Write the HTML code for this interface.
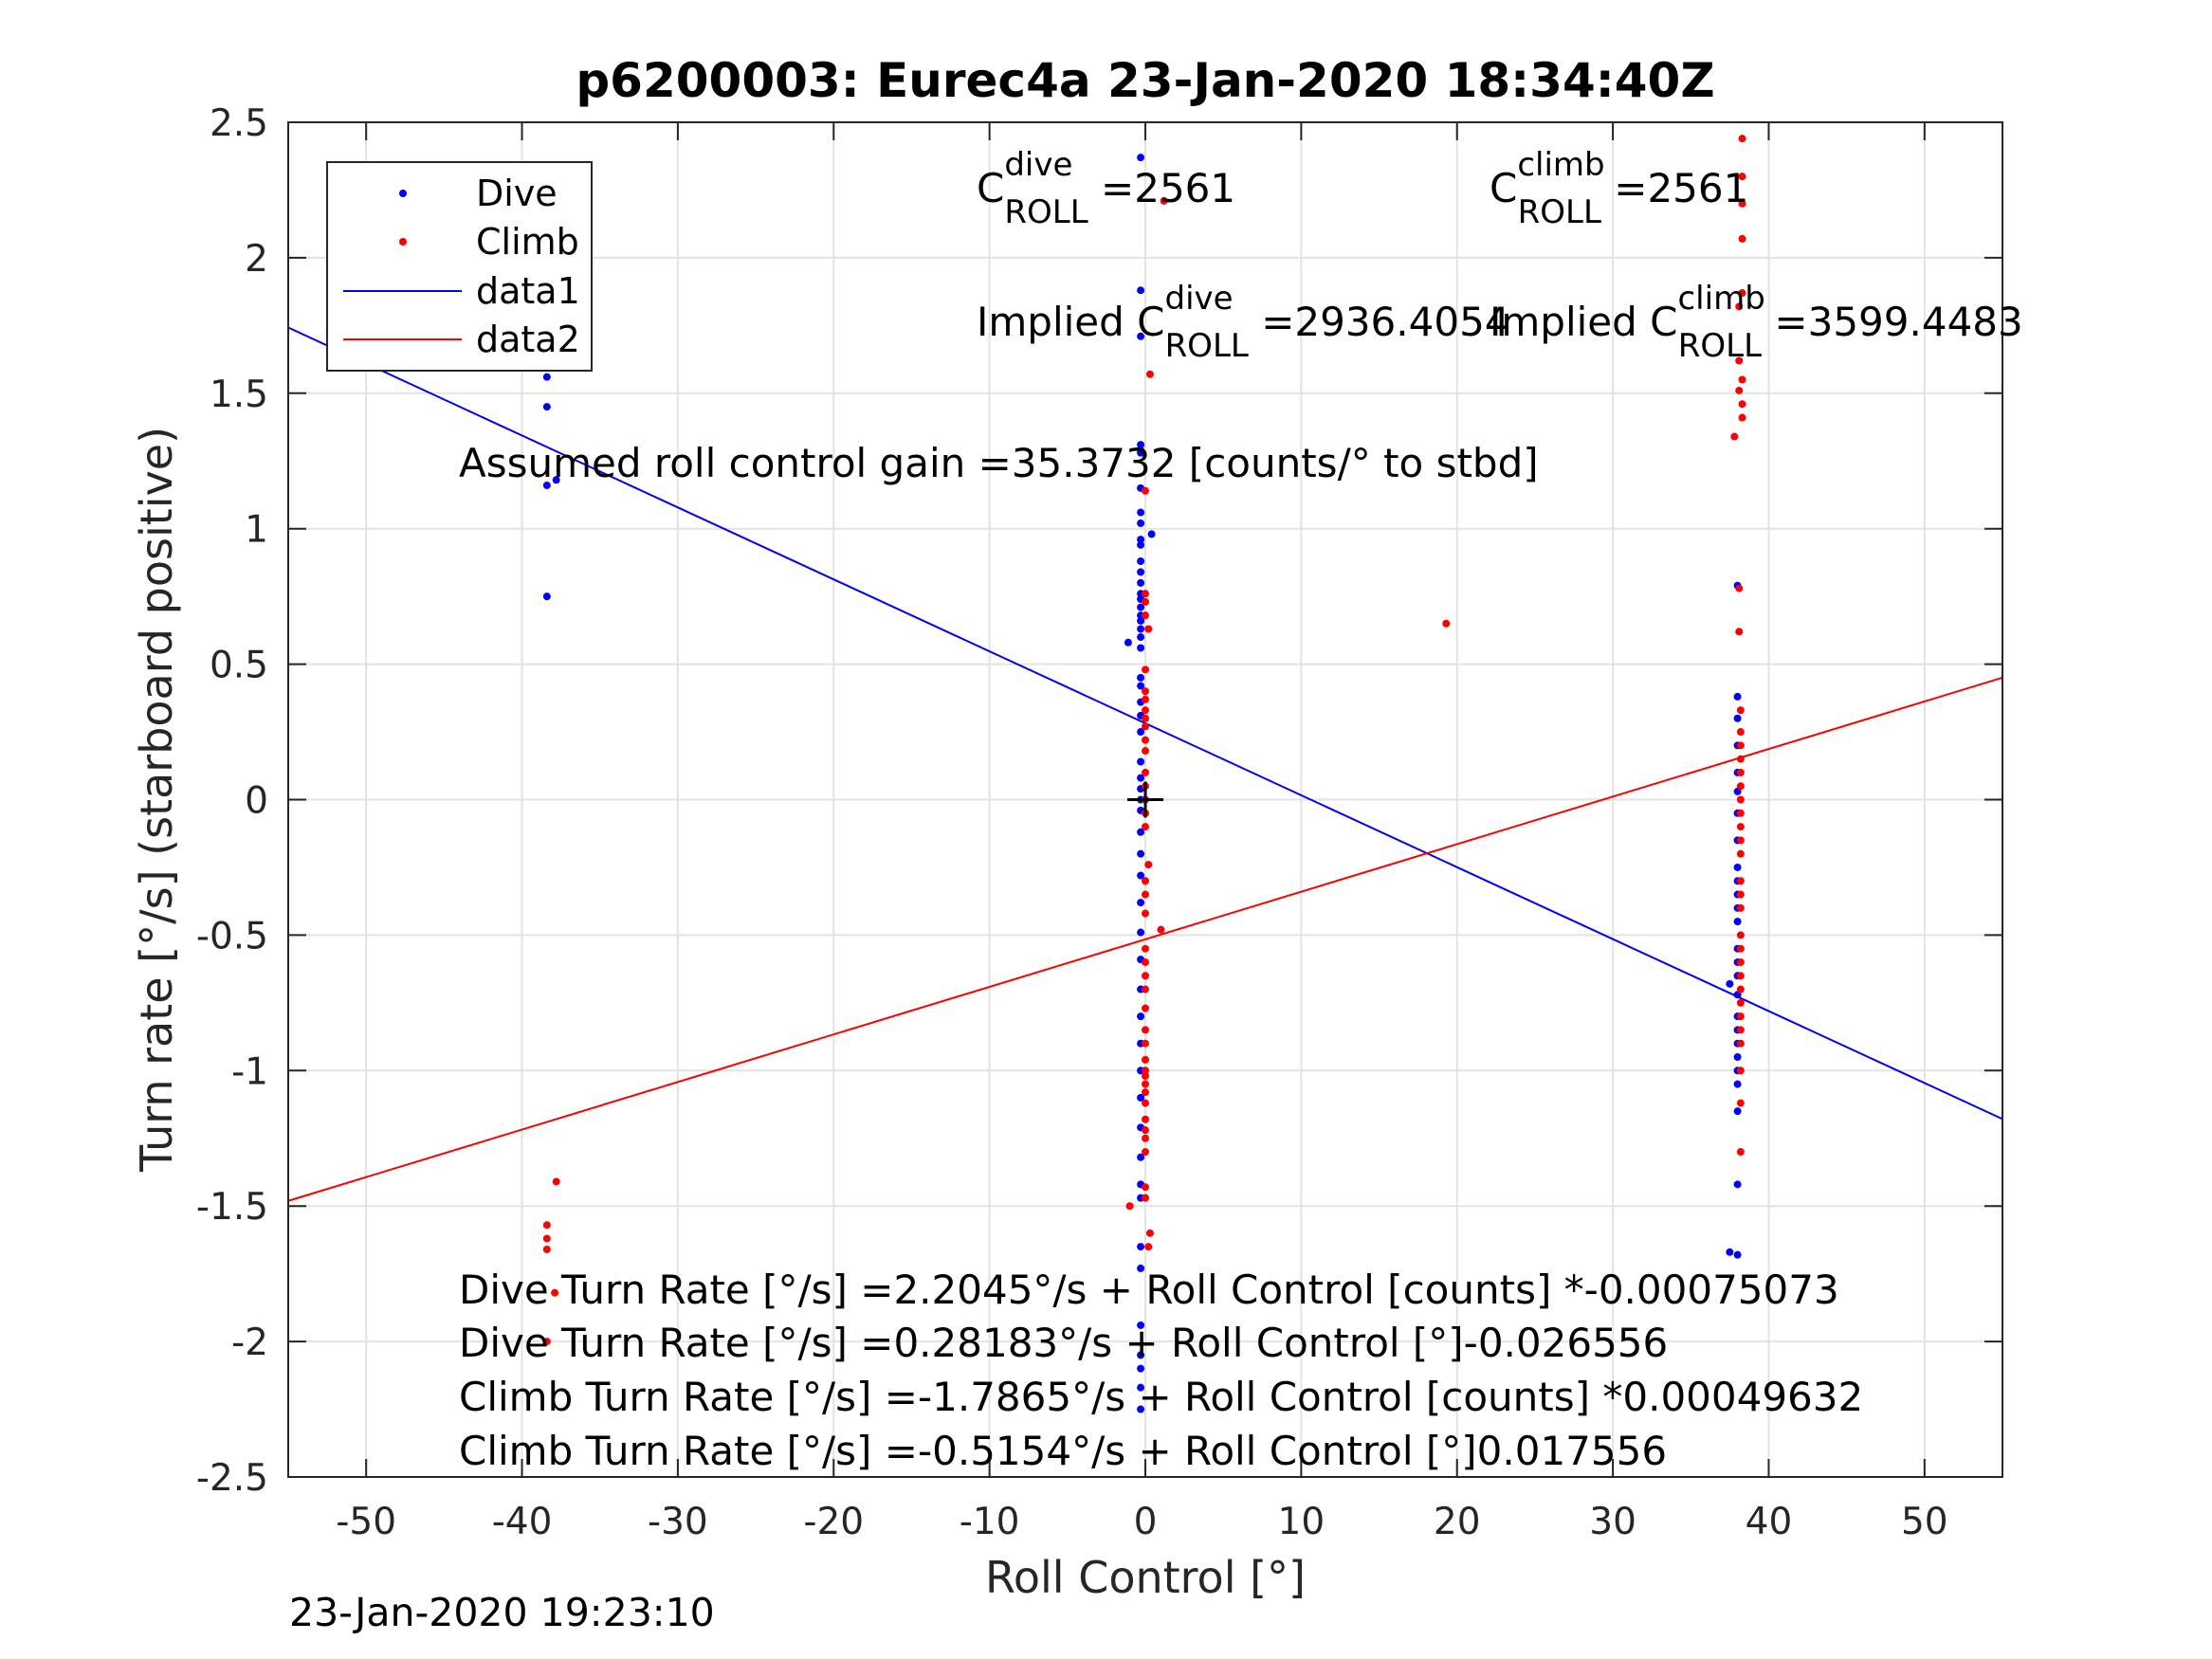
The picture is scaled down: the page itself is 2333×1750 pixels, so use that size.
<!DOCTYPE html>
<html><head><meta charset="utf-8"><style>
html,body{margin:0;padding:0;background:#fff;}
svg{display:block;font-family:"DejaVu Sans","Liberation Sans",sans-serif;}
</style></head><body>
<svg id="chart" width="2333" height="1750" viewBox="0 0 2333 1750" xmlns="http://www.w3.org/2000/svg">
<rect width="2333" height="1750" fill="#fff"/>
<g id="grid"></g>
<g id="lines"></g>
<g id="points"></g>
<g id="axes"></g>
<text x="1208" y="102" font-size="50" font-weight="bold" text-anchor="middle" fill="#000">p6200003: Eurec4a 23-Jan-2020 18:34:40Z</text>
<text x="1208" y="1680" font-size="46" text-anchor="middle" fill="#262626">Roll Control [°]</text>
<text transform="translate(181,843) rotate(-90)" font-size="46" text-anchor="middle" fill="#262626">Turn rate [°/s] (starboard positive)</text>
<text x="305" y="1715" font-size="41" fill="#000">23-Jan-2020 19:23:10</text>
<g font-size="42" fill="#000">
<text x="1030" y="213">C<tspan font-size="34" dy="-28">dive</tspan><tspan font-size="34" dx="-72" dy="50">ROLL</tspan><tspan dy="-22"> =2561</tspan></text>
<text x="1571" y="213">C<tspan font-size="34" dy="-28">climb</tspan><tspan font-size="34" dx="-92" dy="50">ROLL</tspan><tspan dy="-22"> =2561</tspan></text>
<text x="1030" y="354">Implied C<tspan font-size="34" dy="-28">dive</tspan><tspan font-size="34" dx="-72" dy="50">ROLL</tspan><tspan dy="-22"> =2936.4054</tspan></text>
<text x="1571" y="354">Implied C<tspan font-size="34" dy="-28">climb</tspan><tspan font-size="34" dx="-92" dy="50">ROLL</tspan><tspan dy="-22"> =3599.4483</tspan></text>
<text x="484" y="503">Assumed roll control gain =35.3732 [counts/° to stbd]</text>
<text x="484" y="1375">Dive Turn Rate [°/s] =2.2045°/s + Roll Control [counts] *-0.00075073</text>
<text x="484" y="1431">Dive Turn Rate [°/s] =0.28183°/s + Roll Control [°]-0.026556</text>
<text x="484" y="1488">Climb Turn Rate [°/s] =-1.7865°/s + Roll Control [counts] *0.00049632</text>
<text x="484" y="1545">Climb Turn Rate [°/s] =-0.5154°/s + Roll Control [°]0.017556</text>
</g>
<g>
<rect x="345" y="171" width="279" height="220" fill="#fff" stroke="#262626" stroke-width="2"/>
<circle cx="425" cy="204" r="4" fill="#0000ff"/>
<circle cx="425" cy="255" r="4" fill="#ff0000"/>
<line x1="362" y1="307" x2="487" y2="307" stroke="#0000ff" stroke-width="2"/>
<line x1="362" y1="358" x2="487" y2="358" stroke="#ff0000" stroke-width="2"/>
<g font-size="38" fill="#000">
<text x="502" y="217">Dive</text>
<text x="502" y="268">Climb</text>
<text x="502" y="320">data1</text>
<text x="502" y="371">data2</text>
</g>
</g>
</svg>
<script>
const xTicks=[-50,-40,-30,-20,-10,0,10,20,30,40,50];
const yTicks=[-2.5,-2,-1.5,-1,-0.5,0,0.5,1,1.5,2,2.5];
const yTickLabels=["-2.5","-2","-1.5","-1","-0.5","0","0.5","1","1.5","2","2.5"];
const fitIntercepts=[0.28183,-0.5154];
const fitSlopes=[-0.026556,0.017556];
const fitColors=["#0000ff","#ff0000"];
const diveX=[-38.4,-38.4,-38.4,-38.4,-38.4,-38.4,-38.4,-37.8,-38.4,
-0.3,-0.3,-0.3,-0.3,-0.3,-0.3,-0.3,-0.3,0.4,-0.3,-0.3,-0.3,-0.3,-0.3,-0.3,-0.3,-0.3,-0.3,-0.3,-0.3,-0.3,-0.3,-1.1,-0.3,-0.3,-0.3,-0.3,-0.3,-0.3,-0.3,-0.3,-0.3,-0.3,-0.3,-0.3,-0.3,-0.3,-0.3,-0.3,-0.3,-0.3,-0.3,-0.3,-0.3,-0.3,-0.3,-0.3,-0.3,-0.3,-0.3,-0.3,-0.3,-0.3,-0.3,-0.3,-0.3,
38,38,38,38,38,38,38,38,38,38,38,38,38,38,38,38,37.5,38,38,38,38,38,38,38,38,38,37.5,38];
const diveY=[1.8,1.73,1.69,1.65,1.56,1.45,1.16,1.18,0.75,
2.37,1.88,1.71,1.31,1.29,1.28,1.15,1.06,0.98,1.02,0.96,0.94,0.88,0.84,0.8,0.76,0.74,0.71,0.68,0.66,0.63,0.6,0.58,0.56,0.45,0.42,0.36,0.31,0.25,0.14,0.08,0.04,0.0,-0.04,-0.12,-0.2,-0.28,-0.38,-0.49,-0.59,-0.7,-0.8,-0.9,-1.0,-1.1,-1.21,-1.32,-1.42,-1.47,-1.65,-1.73,-1.94,-2.05,-2.1,-2.17,-2.25,
0.79,0.38,0.3,0.2,0.1,0.03,-0.05,-0.15,-0.25,-0.3,-0.35,-0.4,-0.45,-0.55,-0.6,-0.65,-0.68,-0.72,-0.8,-0.85,-0.9,-0.95,-1.0,-1.05,-1.15,-1.42,-1.67,-1.68];
const climbX=[-38.4,-38.4,-38.4,-38.4,-37.9,-37.8,19.3,
1.2,0.3,0,0,0,0,0.2,0,0,0,0,0,0,0,0,0,0,0,0,0,0.2,0,0,0,0,1,0,0,0,0,0,0,0,0,0,0,0,0,0,0,0,0,0,0,-1,0.3,0.2,
38.3,38.3,38.3,38.3,38.3,38.1,38.1,38.3,38.1,38.3,38.3,37.8,38.1,38.1,38.2,38.2,38.2,38.2,38.2,38.2,38.2,38.2,38.2,38.2,38.2,38.2,38.2,38.2,38.2,38.2,38.2,38.2,38.2,38.2,38.2,38.2,38.2,38.2,38.2,38.2];
const climbY=[-1.57,-1.62,-1.66,-2.0,-1.82,-1.41,0.65,
2.21,1.57,1.14,0.76,0.73,0.68,0.63,0.48,0.4,0.37,0.33,0.3,0.27,0.22,0.18,0.1,0.05,0.0,-0.05,-0.1,-0.24,-0.3,-0.35,-0.42,-0.55,-0.48,-0.6,-0.65,-0.7,-0.77,-0.85,-0.9,-0.96,-1.0,-1.02,-1.05,-1.08,-1.12,-1.18,-1.22,-1.25,-1.3,-1.43,-1.47,-1.5,-1.6,-1.65,
2.44,2.3,2.2,2.07,1.87,1.82,1.62,1.55,1.51,1.46,1.41,1.34,0.78,0.62,0.33,0.25,0.2,0.15,0.1,0.05,0.0,-0.05,-0.1,-0.15,-0.2,-0.3,-0.35,-0.4,-0.5,-0.55,-0.6,-0.65,-0.7,-0.75,-0.8,-0.85,-0.9,-1.0,-1.12,-1.3];

const NS="http://www.w3.org/2000/svg";
const L=304,R=2112,T=129,B=1558,XMIN=-55,XMAX=55,YMIN=-2.5,YMAX=2.5;
function sx(v){return L+(v-XMIN)/(XMAX-XMIN)*(R-L);}
function sy(v){return B-(v-YMIN)/(YMAX-YMIN)*(B-T);}
function mk(tag,attrs,parent){const e=document.createElementNS(NS,tag);for(const k in attrs)e.setAttribute(k,attrs[k]);parent.appendChild(e);return e;}
const grid=document.getElementById('grid'),axes=document.getElementById('axes'),lines=document.getElementById('lines'),pts=document.getElementById('points');
xTicks.forEach(t=>{
  const x=sx(t);
  const g=mk('line',{x1:x,y1:T,x2:x,y2:B,stroke:'#e3e3e3','stroke-width':2},grid);
  
  
  const a=mk('line',{x1:x,y1:B,x2:x,y2:B-19,stroke:'#262626','stroke-width':2},axes);
  
  
  const b=mk('line',{x1:x,y1:T,x2:x,y2:T+19,stroke:'#262626','stroke-width':2},axes);
  
  
  const tx=mk('text',{x:x,y:1618,'font-size':39,'text-anchor':'middle',fill:'#262626'},axes);
  tx.textContent=String(t);
  
  
});
yTicks.forEach((t,i)=>{
  const y=sy(t);
  const g=mk('line',{x1:L,y1:y,x2:R,y2:y,stroke:'#e3e3e3','stroke-width':2},grid);
  
  
  const a=mk('line',{x1:L,y1:y,x2:L+19,y2:y,stroke:'#262626','stroke-width':2},axes);
  
  
  const b=mk('line',{x1:R,y1:y,x2:R-19,y2:y,stroke:'#262626','stroke-width':2},axes);
  
  
  const tx=mk('text',{x:283,y:y+14,'font-size':39,'text-anchor':'end',fill:'#262626'},axes);
  tx.textContent=yTickLabels[i];
  
  
});
const box=mk('rect',{x:L,y:T,width:R-L,height:B-T,fill:'none',stroke:'#262626','stroke-width':2},axes);


fitIntercepts.forEach((b0,i)=>{
  const m=fitSlopes[i];
  const ln=mk('line',{x1:sx(XMIN),y1:sy(b0+m*XMIN),x2:sx(XMAX),y2:sy(b0+m*XMAX),stroke:fitColors[i],'stroke-width':2},lines);
  
  
});
diveX.forEach((x,i)=>{
  const c=mk('circle',{cx:sx(x),cy:sy(diveY[i]),r:4,fill:'#0000ff'},pts);
  
  
});
climbX.forEach((x,i)=>{
  const c=mk('circle',{cx:sx(x),cy:sy(climbY[i]),r:4,fill:'#ff0000'},pts);
  
  
});
const cx=sx(0),cy=sy(0);
const p1=mk('line',{x1:cx-19,y1:cy,x2:cx+19,y2:cy,stroke:'#000','stroke-width':3},pts);


const p2=mk('line',{x1:cx,y1:cy-19,x2:cx,y2:cy+19,stroke:'#000','stroke-width':3},pts);


</script>
</body></html>
